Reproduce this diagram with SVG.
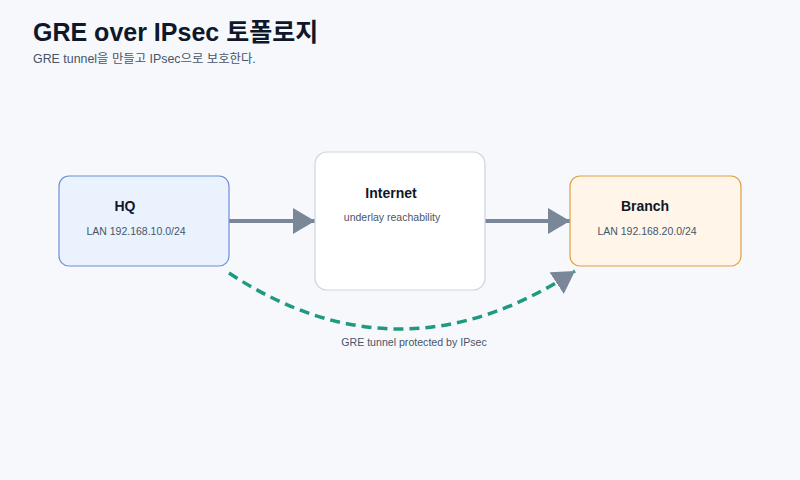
<svg xmlns="http://www.w3.org/2000/svg" width="800" height="480" viewBox="0 0 800 480">
<style>
  text { font-family: "Liberation Sans", Arial, "Noto Sans CJK KR", sans-serif; }
  .title { font-size: 25px; font-weight: bold; fill: #0f172a; }
  .subtitle { font-size: 12.4px; fill: #475569; }
  .ntitle { font-size: 14px; font-weight: bold; fill: #0f172a; text-anchor: middle; }
  .nsub { font-size: 10.5px; fill: #475569; text-anchor: middle; }
  .solid { stroke: #7a8799; stroke-width: 4; fill: none; }
  .dash { stroke: #1f9a80; stroke-width: 3.5; fill: none; stroke-dasharray: 10 6; }
  .label { font-size: 10.6px; fill: #475569; text-anchor: middle; }
</style>
<defs>
  <marker id="arrow" markerUnits="userSpaceOnUse" markerWidth="24" markerHeight="26" refX="22" refY="13" orient="auto">
    <path d="M0,0 L22,13 L0,26 Z" fill="#7a8799"/>
  </marker>
</defs>
<rect width="800" height="480" fill="#f7f8fc"/>
<text class="title" x="33" y="41">GRE over IPsec 토폴로지</text>
<text class="subtitle" x="33" y="63">GRE tunnel을 만들고 IPsec으로 보호한다.</text>
<g id="connectors">
  <line class="solid" x1="229" y1="221" x2="315" y2="221" marker-end="url(#arrow)"/>
  <line class="solid" x1="485" y1="221" x2="570" y2="221" marker-end="url(#arrow)"/>
  <path class="dash" d="M229,273 Q400,386 575,271" marker-end="url(#arrow)"/>
  <text class="label" x="414" y="346">GRE tunnel protected by IPsec</text>
</g>
<g id="hq">
  <rect x="59" y="176" width="170" height="90" rx="10" fill="#eaf2fe" stroke="#6b8fd6" stroke-width="1.2"/>
  <text class="ntitle" x="125" y="211">HQ</text>
  <text class="nsub" x="136" y="235">LAN 192.168.10.0/24</text>
</g>
<g id="internet">
  <rect x="315" y="152" width="170" height="138" rx="12" fill="#ffffff" stroke="#cbd5e1" stroke-width="1.2"/>
  <text class="ntitle" x="391" y="198">Internet</text>
  <text class="nsub" x="392" y="221">underlay reachability</text>
</g>
<g id="branch">
  <rect x="570" y="176" width="171" height="90" rx="10" fill="#fff5e8" stroke="#e0a040" stroke-width="1.2"/>
  <text class="ntitle" x="645" y="211">Branch</text>
  <text class="nsub" x="647" y="235">LAN 192.168.20.0/24</text>
</g>
</svg>
